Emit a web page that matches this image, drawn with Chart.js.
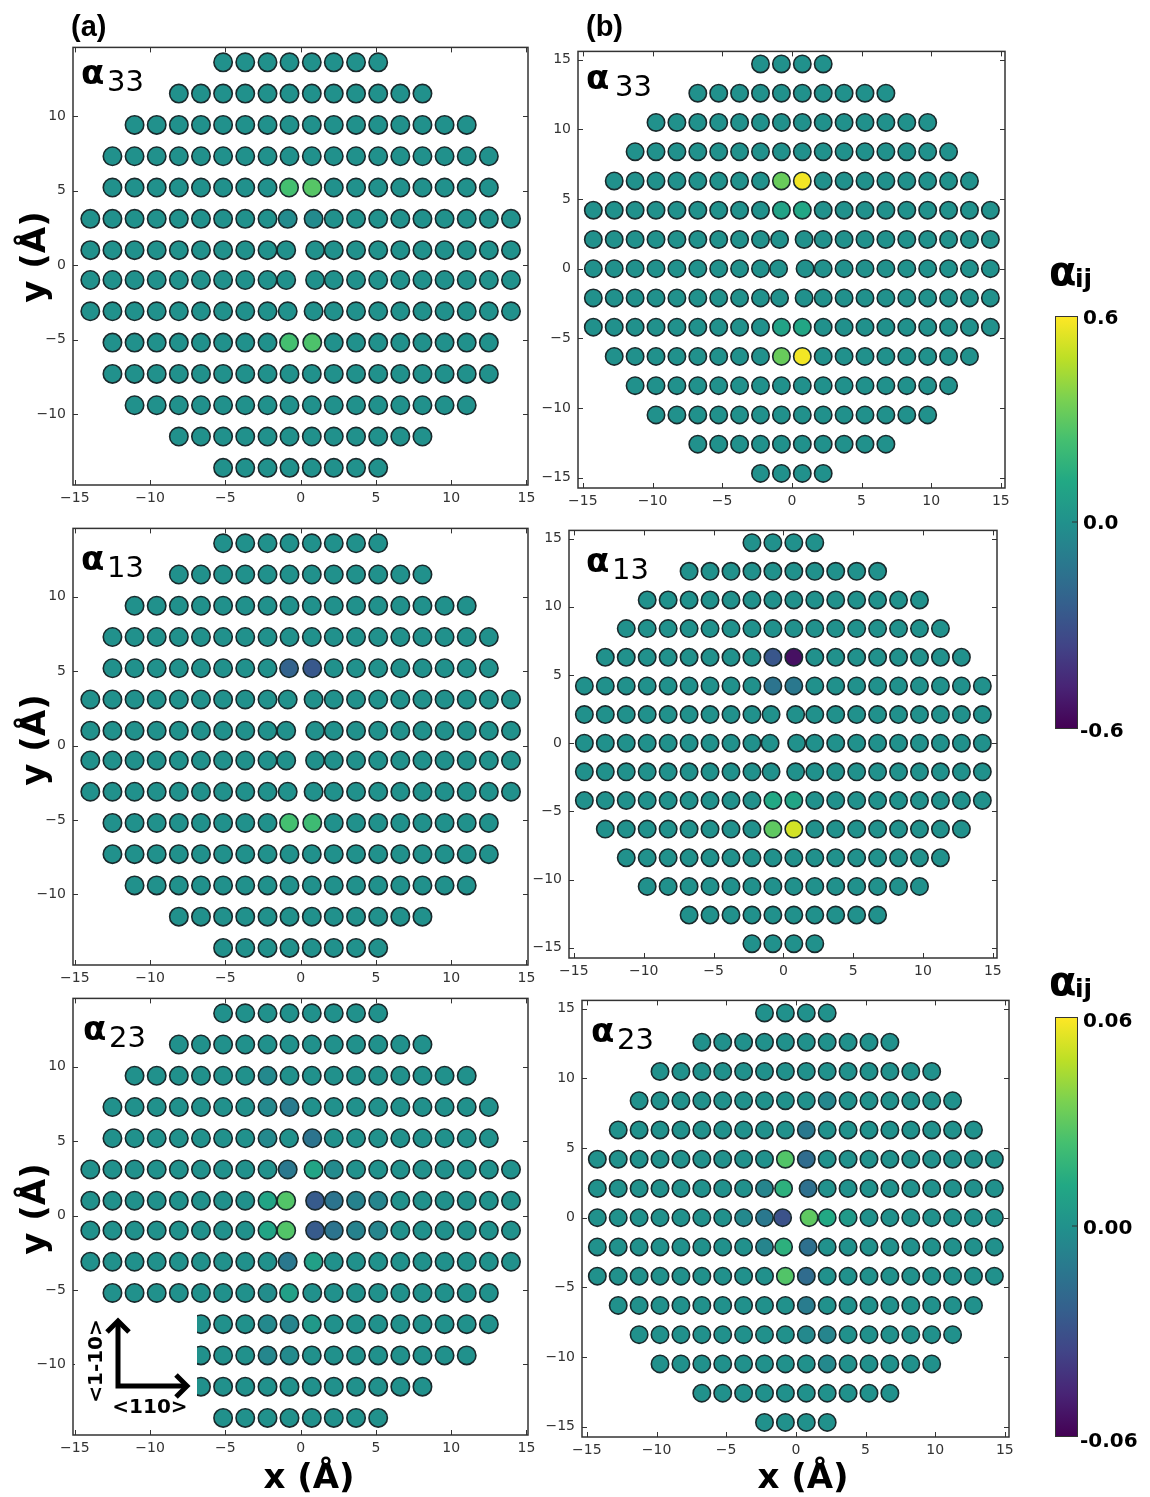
<!DOCTYPE html>
<html>
<head>
<meta charset="utf-8">
<script src="https://cdn.jsdelivr.net/npm/chart.js@4.4.0/dist/chart.umd.min.js"></script>
<style>
  body { margin: 0; background: #fff; }
  #fig { position: relative; width: 1150px; height: 1497px; overflow: hidden; background: #fff; }
  #fig canvas { position: absolute; }
  #ov { position: absolute; left: 0; top: 0; pointer-events: none; }
  .cbar { position: absolute; width: 21px; border: 1px solid #333;
    background: linear-gradient(to top, #440154 0%, #482475 10%, #414487 20%, #355f8d 30%, #2a788e 40%,
      #21918c 50%, #22a884 60%, #44bf70 70%, #7ad151 80%, #bddf26 90%, #fde725 100%); }
</style>
</head>
<body>
<div id="fig">
  <canvas id="a33"></canvas>
  <canvas id="a13"></canvas>
  <canvas id="a23"></canvas>
  <canvas id="b33"></canvas>
  <canvas id="b13"></canvas>
  <canvas id="b23"></canvas>
  <div class="cbar" style="left:1055px;top:316px;height:411px"></div>
  <div class="cbar" style="left:1055px;top:1017px;height:418px"></div>

  <svg id="ov" width="1150" height="1497" font-family="DejaVu Sans" font-weight="bold">
    <text x="71" y="36" font-family="Liberation Sans" font-size="29">(a)</text>
    <text x="586" y="36" font-family="Liberation Sans" font-size="29">(b)</text>

    <!-- panel titles -->
    <g font-size="34"><text x="81" y="84">α</text><text x="586" y="89">α</text>
      <text x="81" y="570">α</text><text x="586" y="572">α</text>
      <text x="83" y="1040">α</text><text x="591" y="1042">α</text></g>
    <g font-size="29" font-weight="normal"><text x="107" y="91">33</text><text x="615" y="96">33</text>
      <text x="107" y="577">13</text><text x="612" y="579">13</text>
      <text x="109" y="1047">23</text><text x="617" y="1049">23</text></g>

    <!-- axis labels -->
    <g font-size="34" text-anchor="middle">
      <text transform="translate(45,257) rotate(-90)">y (Å)</text>
      <text transform="translate(45,740) rotate(-90)">y (Å)</text>
      <text transform="translate(45,1209) rotate(-90)">y (Å)</text>
      <text x="309" y="1488">x (Å)</text>
      <text x="803" y="1488">x (Å)</text>
    </g>

    <!-- colour bars -->
    <text x="1049" y="285" font-size="40">α</text><text x="1075" y="287" font-size="25">ij</text>
    <text x="1049" y="995" font-size="40">α</text><text x="1075" y="997" font-size="25">ij</text>
    <g font-size="20">
      <text x="1083" y="324">0.6</text><text x="1083" y="529">0.0</text><text x="1080" y="737">-0.6</text>
      <text x="1083" y="1027">0.06</text><text x="1083" y="1234">0.00</text><text x="1080" y="1447">-0.06</text>
    </g>
    <line x1="1072" y1="522" x2="1077" y2="522" stroke="#333" stroke-width="1"/>
    <line x1="1072" y1="1226" x2="1077" y2="1226" stroke="#333" stroke-width="1"/>

    <!-- crystal directions inset -->
    <rect x="75" y="1308" width="122" height="110" fill="#fff"/>
    <polyline points="118,1322 118,1386 184,1386" fill="none" stroke="#000" stroke-width="5" stroke-linejoin="miter"/>
    <polyline points="107,1332 118,1321 129,1332" fill="none" stroke="#000" stroke-width="5" stroke-linejoin="miter"/>
    <polyline points="176,1375 187,1386 176,1397" fill="none" stroke="#000" stroke-width="5" stroke-linejoin="miter"/>
    <text transform="translate(102,1361) rotate(-90)" font-size="20" text-anchor="middle">&lt;1-10&gt;</text>
    <text x="150" y="1413" font-size="20" text-anchor="middle">&lt;110&gt;</text>
  </svg>
</div>

<script>
// lattice of panel (a): row heights, atoms per row, half-row column positions (Å)
const rowsA = [13.6, 11.5, 9.4, 7.3, 5.2, 3.1, 1.0, -1.0, -3.1, -5.2, -7.3, -9.4, -11.5, -13.6];
const countA = [8, 12, 16, 18, 18, 20, 20, 20, 20, 18, 18, 16, 12, 8];
const colsA = [0.74, 2.2, 3.68, 5.15, 6.62, 8.09, 9.56, 11.03, 12.5, 13.97];
const innerA = [0.74, 0.74, 0.74, 0.74, 0.77, 0.86, 0.96, 0.96, 0.86, 0.77, 0.74, 0.74, 0.74, 0.74];

// lattice of panel (b)
const rowsB = [14.7, 12.6, 10.5, 8.4, 6.3, 4.2, 2.1, 0, -2.1, -4.2, -6.3, -8.4, -10.5, -12.6, -14.7];
const countB = [4, 10, 14, 16, 18, 20, 20, 20, 20, 20, 18, 16, 14, 10, 4];
const colsB = [0.75, 2.25, 3.75, 5.25, 6.75, 8.25, 9.75, 11.25, 12.75, 14.25];
const innerB = [0.75, 0.75, 0.75, 0.75, 0.75, 0.75, 0.88, 0.95, 0.88, 0.75, 0.75, 0.75, 0.75, 0.75, 0.75];

// alpha values that differ from zero: [row y, column (-1/+1 = next to centre), alpha]
const a33A = [[5.2, -1, 0.24], [5.2, 1, 0.28], [-5.2, -1, 0.24], [-5.2, 1, 0.26], [3.1, -1, -0.03], [3.1, 1, -0.03]];
const a33B = [[6.3, -1, 0.32], [6.3, 1, 0.58], [4.2, -1, 0.09], [4.2, 1, 0.11],
              [-4.2, -1, 0.09], [-4.2, 1, 0.11], [-6.3, -1, 0.32], [-6.3, 1, 0.58]];
const a13A = [[5.2, -1, -0.22], [5.2, 1, -0.27], [-5.2, -1, 0.24], [-5.2, 1, 0.22]];
const a13B = [[6.3, -1, -0.28], [6.3, 1, -0.55], [4.2, -1, -0.14], [4.2, 1, -0.12],
              [-4.2, -1, 0.12], [-4.2, 1, 0.1], [-6.3, -1, 0.3], [-6.3, 1, 0.52]];
const a23A = [[9.4, -2, -0.004], [7.3, -2, -0.004], [7.3, -1, -0.01], [5.2, -2, -0.004], [5.2, 1, -0.014],
              [3.1, -1, -0.012], [3.1, 1, 0.01], [3.1, 2, -0.003],
              [1.0, -2, 0.01], [1.0, -1, 0.027], [1.0, 1, -0.026], [1.0, 2, -0.014], [1.0, 3, -0.007], [1.0, 4, -0.006],
              [-1.0, -2, 0.01], [-1.0, -1, 0.027], [-1.0, 1, -0.026], [-1.0, 2, -0.014], [-1.0, 3, -0.007], [-1.0, 4, -0.006],
              [-3.1, -1, -0.012], [-3.1, 1, 0.008], [-5.2, -1, 0.008], [-5.2, -2, -0.002],
              [-7.3, -2, -0.004], [-7.3, -1, -0.006], [-7.3, 1, 0.004], [-9.4, -2, -0.005], [-9.4, -1, -0.003]];
const a23B = [[8.4, 2, -0.005], [6.3, 1, -0.012], [4.2, -1, 0.027], [4.2, 1, -0.018],
              [2.1, -2, -0.006], [2.1, -1, 0.016], [2.1, 1, -0.016],
              [0, -3, -0.004], [0, -2, -0.012], [0, -1, -0.03], [0, 1, 0.03], [0, 2, 0.012], [0, 3, 0.004],
              [-2.1, -2, -0.006], [-2.1, -1, 0.016], [-2.1, 1, -0.016],
              [-4.2, -1, 0.027], [-4.2, 1, -0.018], [-6.3, 1, -0.01],
              [-8.4, 1, -0.004], [-8.4, 2, -0.006], [-10.5, 2, -0.004]];

const xTicks = [-15, -10, -5, 0, 5, 10, 15];
const yTicksA = [-10, -5, 0, 5, 10];
const yTicksB = [-15, -10, -5, 0, 5, 10, 15];

const viridisStops = ['#440154', '#482475', '#414487', '#355f8d', '#2a788e', '#21918c',
                      '#22a884', '#44bf70', '#7ad151', '#bddf26', '#fde725'];

function hexRgb(h) {
  return [1, 3, 5].map(i => parseInt(h.substr(i, 2), 16));
}

function viridis(t) {
  t = Math.max(0, Math.min(1, t));
  const f = t * 10, i = Math.min(9, Math.floor(f)), u = f - i;
  const a = hexRgb(viridisStops[i]), b = hexRgb(viridisStops[i + 1]);
  const c = a.map((v, k) => Math.round(v + (b[k] - v) * u));
  return `rgb(${c[0]},${c[1]},${c[2]})`;
}

function lattice(rows, counts, cols, inner, marks) {
  const vals = new Map(marks.map(m => [m[0] + '|' + m[1], m[2]]));
  const pts = [];
  rows.forEach((y, i) => {
    for (let k = 0; k < counts[i] / 2; k++) {
      const x = k === 0 ? inner[i] : cols[k];
      pts.push({ x: -x, y: y, v: vals.get(y + '|' + (-(k + 1))) || 0 });
      pts.push({ x: x, y: y, v: vals.get(y + '|' + (k + 1)) || 0 });
    }
  });
  return pts;
}

const fmt = v => (v < 0 ? '\u2212' + Math.abs(v) : String(v));

// box around the plot plus inward ticks on all four sides
const frame = {
  id: 'frame',
  afterDraw(chart) {
    const { ctx, chartArea: a, scales: { x, y } } = chart;
    ctx.save();
    ctx.strokeStyle = '#333';
    ctx.lineWidth = 1;
    ctx.beginPath();
    x.ticks.forEach(t => {
      const p = Math.round(x.getPixelForValue(t.value)) + 0.5;
      ctx.moveTo(p, a.bottom); ctx.lineTo(p, a.bottom - 5);
      ctx.moveTo(p, a.top); ctx.lineTo(p, a.top + 5);
    });
    y.ticks.forEach(t => {
      const p = Math.round(y.getPixelForValue(t.value)) + 0.5;
      ctx.moveTo(a.left, p); ctx.lineTo(a.left + 5, p);
      ctx.moveTo(a.right, p); ctx.lineTo(a.right - 5, p);
    });
    ctx.stroke();
    ctx.lineWidth = 1.5;
    ctx.strokeRect(a.left, a.top, a.right - a.left, a.bottom - a.top);
    ctx.restore();
  }
};

function panel(id, box, xr, yr, yTicks, pts, vmax, r) {
  const L = 50, T = 12, R = 16, B = 30;
  const cv = document.getElementById(id);
  cv.style.left = (box[0] - L) + 'px';
  cv.style.top = (box[1] - T) + 'px';
  cv.width = box[2] + L + R;
  cv.height = box[3] + T + B;
  const tickFont = { family: 'DejaVu Sans', size: 14 };

  new Chart(cv, {
    type: 'scatter',
    data: {
      datasets: [{
        data: pts,
        pointRadius: r,
        pointHoverRadius: r,
        pointBorderWidth: 1.6,
        pointBorderColor: '#1a2a2c',
        pointBackgroundColor: pts.map(p => viridis(0.5 + p.v / (2 * vmax)))
      }]
    },
    options: {
      responsive: false,
      animation: false,
      devicePixelRatio: 1,
      events: [],
      layout: { padding: { top: T, right: R, left: 0, bottom: 0 } },
      plugins: { legend: { display: false }, tooltip: { enabled: false } },
      scales: {
        x: {
          type: 'linear', min: xr[0], max: xr[1],
          afterBuildTicks: s => { s.ticks = xTicks.map(v => ({ value: v })); },
          afterFit: s => { s.height = B; },
          grid: { display: false, drawTicks: false },
          border: { display: false },
          ticks: { padding: 5, font: tickFont, color: '#333', maxRotation: 0, autoSkip: false, callback: fmt }
        },
        y: {
          type: 'linear', min: yr[0], max: yr[1],
          afterBuildTicks: s => { s.ticks = yTicks.map(v => ({ value: v })); },
          afterFit: s => { s.width = L; },
          grid: { display: false, drawTicks: false },
          border: { display: false },
          ticks: { padding: 7, font: tickFont, color: '#333', autoSkip: false, callback: fmt }
        }
      }
    },
    plugins: [frame]
  });
}

const xrA = [-15.12, 15.1], yrA = [-14.75, 14.6];
const xrB = [-15.35, 15.3], yrB = [-15.75, 15.6];

panel('a33', [73, 44, 455, 441], xrA, yrA, yTicksA, lattice(rowsA, countA, colsA, innerA, a33A), 0.6, 9.2);
panel('a13', [73, 525, 455, 440], xrA, yrA, yTicksA, lattice(rowsA, countA, colsA, innerA, a13A), 0.6, 9.2);
panel('a23', [73, 995, 455, 440], xrA, yrA, yTicksA, lattice(rowsA, countA, colsA, innerA, a23A), 0.06, 9.2);
panel('b33', [578, 48, 427, 440], xrB, yrB, yTicksB, lattice(rowsB, countB, colsB, innerB, a33B), 0.6, 8.7);
panel('b13', [569, 527, 428, 431], xrB, yrB, yTicksB, lattice(rowsB, countB, colsB, innerB, a13B), 0.6, 8.7);
panel('b23', [582, 997, 427, 440], xrB, yrB, yTicksB, lattice(rowsB, countB, colsB, innerB, a23B), 0.06, 8.7);
</script>
</body>
</html>
